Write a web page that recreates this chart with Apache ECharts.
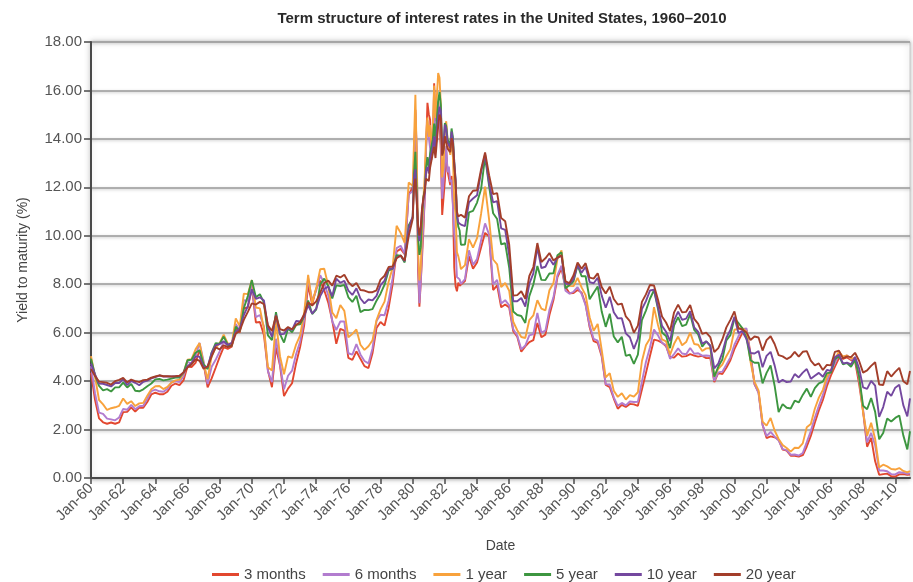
<!DOCTYPE html>
<html>
<head>
<meta charset="utf-8">
<script src="https://cdn.jsdelivr.net/npm/echarts@6/dist/echarts.min.js"></script>
<style>
html,body{margin:0;padding:0;background:#fff;}
#c{width:913px;height:582px;}
</style>
</head>
<body>
<div id="c"></div>
<script>
// ---------- categories (monthly) ----------
const monthNames = ['Jan','Feb','Mar','Apr','May','Jun','Jul','Aug','Sep','Oct','Nov','Dec'];
const months = [];
for (let y = 1960; y <= 2010; y++) {
  for (let m = 0; m < 12; m++) months.push(monthNames[m] + '-' + String(y % 100).padStart(2, '0'));
}
// sampled months: quarterly (Jan/Apr/Jul/Oct), monthly 1980-1982, plus Dec-10
const sampleMonths = [];
for (let y = 1960; y <= 2010; y++) {
  for (let m = 0; m < 12; m++) {
    if ((y >= 1980 && y <= 1982) || m % 3 === 0) sampleMonths.push((y - 1960) * 12 + m);
  }
}
sampleMonths.push(611);

const seriesNames = ['3 months', '6 months', '1 year', '5 year', '10 year', '20 year'];
const yTicks = [0, 2, 4, 6, 8, 10, 12, 14, 16, 18];

// ---------- values (%) ----------
const threeMonth = [
4.35,3.23,2.46,2.30, 2.24,2.29,2.24,2.30, 2.72,2.73,2.92,2.74, 2.91,2.90,3.14,3.45,
3.52,3.46,3.46,3.56, 3.81,3.90,3.83,4.03, 4.60,4.58,4.75,5.29, 4.72,3.74,4.11,4.55,
5.00,5.40,5.33,5.42, 6.18,6.00,7.00,7.04, 7.88,6.42,6.44,5.91, 4.44,3.75,5.39,4.64,
3.38,3.69,3.91,4.73, 5.41,6.29,7.97,7.16, 7.82,8.15,7.75,7.24, 6.49,5.54,6.16,6.08,
4.96,4.88,5.23,4.92, 4.62,4.54,5.15,6.19, 6.44,6.29,7.01,8.00, 9.35,9.46,9.24,11.70,
12.00,12.86,15.20,13.20,8.58,7.07,8.06,9.13,10.27,11.62,13.73,15.49,
15.02,14.79,13.36,13.69,16.30,14.73,14.95,15.51,14.70,13.54,10.86,10.85,
12.28,13.48,12.68,12.70,12.09,12.47,11.35,8.68,7.92,7.71,8.07,7.94,
7.86,8.13,9.15,8.64, 8.90,9.52,10.12,9.97, 7.76,7.95,7.05,7.16, 7.04,6.06,5.83,5.21,
5.43,5.61,5.69,6.40, 5.81,5.92,6.73,7.35, 8.29,8.65,7.88,7.63, 7.64,7.76,7.66,7.17,
6.22,5.65,5.58,5.02, 3.84,3.75,3.28,2.86, 3.02,2.93,3.06,3.04, 2.98,3.65,4.33,5.04,
5.71,5.67,5.59,5.44, 5.00,4.97,5.14,5.01, 5.03,5.11,5.05,5.01, 5.04,4.95,4.96,3.96,
4.34,4.29,4.55,4.86, 5.32,5.66,6.00,6.11, 5.15,3.87,3.54,2.20, 1.65,1.72,1.68,1.58,
1.17,1.13,0.92,0.92, 0.88,0.94,1.30,1.74, 2.28,2.79,3.22,3.79, 4.24,4.60,4.95,4.92,
4.98,4.87,4.82,3.90, 2.75,1.29,1.66,0.69, 0.13,0.16,0.18,0.07, 0.06,0.15,0.16,0.13,0.14
];
const sixMonth = [
4.62,3.50,2.70,2.65, 2.45,2.42,2.38,2.50, 2.85,2.82,3.02,2.84, 2.96,2.98,3.27,3.59,
3.65,3.58,3.56,3.68, 3.94,4.00,3.96,4.20, 4.80,4.72,5.04,5.58, 4.82,3.88,4.59,4.88,
5.23,5.64,5.42,5.47, 6.36,6.09,7.34,7.31, 7.96,6.64,6.73,6.26, 4.40,3.96,5.75,4.70,
3.66,4.22,4.43,5.11, 5.63,6.52,8.24,7.33, 7.73,8.37,8.03,7.54, 6.46,6.11,6.46,6.46,
5.15,5.09,5.53,5.10, 4.83,4.73,5.35,6.48, 6.74,6.72,7.32,8.24, 9.49,9.59,9.26,11.70,
11.85,12.72,15.10,13.62,9.15,7.22,8.10,9.44,10.55,11.57,13.61,14.77,
14.08,14.03,13.13,13.51,15.53,13.93,14.40,15.55,15.06,14.01,11.53,11.47,
12.93,13.71,12.62,12.86,12.22,12.31,12.24,10.11,9.54,8.30,8.35,8.20,
8.01,8.21,9.40,8.80, 9.04,9.81,10.51,10.05, 7.99,8.18,7.20,7.34, 7.13,6.14,5.88,5.31,
5.47,5.89,5.94,6.81, 6.00,6.08,6.94,7.46, 8.38,8.77,7.73,7.61, 7.69,7.88,7.60,7.13,
6.29,5.74,5.67,5.09, 3.87,3.86,3.33,2.98, 3.10,3.00,3.16,3.14, 3.15,3.98,4.79,5.39,
6.13,5.89,5.58,5.48, 4.92,5.12,5.35,5.14, 5.11,5.37,5.13,5.15, 5.05,5.06,5.04,4.01,
4.36,4.39,4.68,4.98, 5.50,5.85,6.14,6.18, 5.02,3.90,3.50,2.19, 1.73,1.90,1.71,1.55,
1.19,1.15,0.96,0.97, 0.93,1.03,1.48,1.94, 2.49,2.98,3.43,3.98, 4.43,4.74,5.09,5.00,
5.06,4.90,4.96,4.09, 2.82,1.47,1.86,1.35, 0.31,0.31,0.28,0.16, 0.15,0.24,0.22,0.17,0.19
];
const oneYear = [
5.03,4.18,3.22,3.04, 2.81,2.88,2.92,2.98, 3.28,3.06,3.17,2.97, 3.08,3.10,3.40,3.66,
3.79,3.80,3.67,3.76, 3.94,4.03,4.06,4.32, 4.88,4.91,5.31,5.57, 4.71,4.08,5.04,5.37,
5.57,5.92,5.56,5.54, 6.59,6.26,7.61,7.59, 8.17,7.04,7.00,6.17, 4.57,4.44,6.49,5.03,
4.28,5.02,4.96,5.51, 5.89,6.81,8.39,7.22, 7.83,8.62,8.64,7.94, 6.83,6.60,7.14,6.90,
5.81,5.95,6.13,5.50, 5.29,5.44,5.69,6.52, 6.96,7.28,8.09,8.68, 10.41,10.12,9.71,12.20,
12.06,13.92,15.82,13.30,9.39,8.16,8.65,10.24,11.52,12.49,14.15,14.88,
14.08,14.57,13.71,14.32,16.20,14.86,15.72,16.72,16.52,15.38,12.41,12.85,
14.32,14.73,13.95,13.98,13.34,14.07,13.24,11.43,10.85,9.32,9.16,8.91,
8.62,8.79,9.86,9.51, 9.90,10.90,12.03,10.67, 9.02,8.82,7.88,8.05, 7.73,6.45,6.10,5.82,
5.78,6.52,6.71,7.34, 6.99,6.92,7.75,8.05, 9.05,9.40,8.02,7.93, 7.92,8.26,7.87,7.55,
6.64,6.08,6.36,5.29, 4.15,4.33,3.60,3.35, 3.50,3.24,3.42,3.36, 3.54,4.82,5.48,5.76,
7.05,6.32,5.72,5.64, 5.09,5.54,5.84,5.48, 5.61,6.00,5.53,5.50, 5.24,5.35,5.36,4.20,
4.51,4.68,5.03,5.32, 6.12,6.15,6.18,6.04, 4.81,3.97,3.62,2.33, 2.16,2.48,1.96,1.61,
1.36,1.24,1.09,1.25, 1.24,1.43,2.10,2.23, 2.86,3.32,3.64,4.18, 4.45,4.90,5.22,5.01,
5.06,4.93,4.96,4.20, 2.71,1.74,2.28,1.61, 0.44,0.55,0.48,0.37, 0.35,0.41,0.29,0.23,0.29
];
const fiveYear = [
4.92,4.25,3.80,3.62, 3.67,3.57,3.74,3.74, 3.94,3.74,3.88,3.60, 3.58,3.66,3.79,3.90,
4.07,4.09,4.03,4.06, 4.10,4.15,4.15,4.34, 4.86,4.88,5.17,5.27, 4.69,4.50,5.18,5.57,
5.54,5.84,5.50,5.46, 6.25,6.05,7.01,7.51, 8.17,7.46,7.59,7.24, 5.89,5.69,6.85,5.94,
5.59,6.17,6.02,6.32, 6.34,6.66,7.33,6.77, 6.95,7.99,8.23,7.93, 7.41,7.95,7.92,7.97,
7.46,7.27,7.52,6.85, 6.94,6.93,6.97,7.32, 7.61,7.98,8.56,8.64, 9.20,9.18,8.90,10.43,
10.74,12.60,13.47,11.84,9.95,9.21,9.53,10.84,11.62,11.86,12.83,13.25,
12.77,13.41,13.41,13.99,14.63,13.95,14.79,15.56,15.93,15.41,13.38,13.60,
14.65,14.54,13.98,14.00,13.75,14.43,14.07,13.00,12.25,10.80,10.38,10.22,
9.63,9.64,10.97,11.03, 11.37,11.92,13.27,12.05, 10.93,10.69,9.65,9.69, 8.68,6.87,6.73,6.69,
6.40,7.51,7.99,8.75, 8.18,8.17,8.44,8.45, 9.20,9.32,7.83,7.97, 8.12,8.79,8.33,8.33,
7.38,7.65,7.91,6.87, 6.24,6.78,5.84,5.60, 5.83,5.04,5.09,4.71, 5.09,6.52,6.91,7.40,
7.76,6.98,6.01,5.86, 5.36,6.30,6.64,6.27, 6.33,6.76,6.12,5.93, 5.42,5.64,5.46,4.18,
4.60,4.89,5.68,5.90, 6.58,6.40,6.18,5.78, 4.86,4.76,4.76,3.91, 4.34,4.65,3.81,2.72,
3.05,2.90,2.87,3.19, 3.12,3.43,3.69,3.35, 3.71,3.91,3.98,4.33, 4.35,4.90,5.04,4.69,
4.75,4.59,4.88,4.20, 2.98,2.84,3.30,2.73, 1.60,1.86,2.46,2.33, 2.48,2.58,1.76,1.18,1.93
];
const tenYear = [
4.72,4.28,3.90,3.89, 3.84,3.78,3.92,3.92, 4.08,3.84,4.01,3.93, 3.83,3.97,4.02,4.11,
4.17,4.23,4.19,4.19, 4.19,4.20,4.20,4.35, 4.61,4.75,5.02,5.01, 4.58,4.59,5.16,5.48,
5.53,5.64,5.50,5.58, 6.04,6.17,6.72,7.10, 7.79,7.39,7.46,7.33, 6.24,5.83,6.73,5.93,
5.95,6.19,6.11,6.48, 6.46,6.67,7.13,6.79, 6.99,7.51,7.81,7.90, 7.50,8.23,8.06,8.14,
7.74,7.56,7.83,7.41, 7.21,7.37,7.33,7.52, 7.96,8.15,8.64,8.64, 9.10,9.18,8.95,10.30,
10.80,12.41,12.75,11.47,10.18,9.78,10.25,11.10,11.51,11.75,12.68,12.84,
12.57,13.19,13.12,13.68,14.10,13.47,14.28,14.94,15.32,15.15,13.39,13.72,
14.59,14.43,13.86,13.87,13.62,14.30,13.95,13.06,12.34,10.91,10.55,10.54,
10.46,10.40,11.38,11.54, 11.67,12.63,13.36,12.16, 11.38,11.43,10.31,10.24, 9.19,7.30,7.30,7.43,
7.08,8.02,8.45,9.52, 8.67,8.72,9.06,8.80, 9.09,9.18,8.02,8.01, 8.21,8.79,8.47,8.72,
8.09,8.04,8.27,7.53, 7.03,7.48,6.84,6.59, 6.60,5.97,5.81,5.33, 5.75,6.97,7.30,7.74,
7.78,7.06,6.28,6.04, 5.65,6.51,6.87,6.53, 6.58,6.89,6.22,6.03, 5.54,5.64,5.46,4.53,
4.72,5.18,5.79,6.11, 6.66,5.99,6.05,5.74, 5.16,5.14,5.24,4.57, 5.04,5.21,4.65,3.94,
4.05,3.96,3.98,4.29, 4.15,4.35,4.50,4.10, 4.22,4.34,4.18,4.46, 4.42,4.99,5.09,4.73,
4.76,4.69,5.00,4.53, 3.74,3.68,4.01,3.81, 2.52,2.93,3.56,3.39, 3.73,3.85,3.01,2.54,3.29
];
const twentyYear = [
4.50,4.21,3.98,3.96, 3.93,3.86,4.00,4.05, 4.13,3.95,4.06,4.00, 3.96,4.04,4.06,4.14,
4.19,4.24,4.20,4.20, 4.19,4.20,4.22,4.36, 4.56,4.69,4.90,4.84, 4.51,4.61,5.01,5.39,
5.31,5.48,5.40,5.47, 5.96,6.08,6.53,6.86, 7.21,7.16,7.27,7.18, 6.30,6.07,6.70,6.15,
6.09,6.23,6.14,6.32, 6.43,6.76,7.25,7.12, 7.29,7.65,8.05,8.15, 7.94,8.35,8.28,8.39,
8.09,7.92,8.05,7.76, 7.74,7.67,7.67,7.75, 8.19,8.35,8.71,8.73, 9.07,9.19,8.98,9.99,
10.69,12.00,12.36,11.44,10.43,10.01,10.38,11.16,11.56,11.86,12.36,12.29,
12.26,12.82,12.82,13.40,13.68,13.21,13.88,14.52,15.00,14.85,13.31,13.55,
14.11,14.05,13.60,13.56,13.45,14.03,13.82,12.91,12.17,10.99,10.80,10.80,
10.87,10.75,11.63,11.86, 11.88,12.74,13.44,12.50, 11.72,11.76,10.73,10.60, 9.63,7.53,7.55,7.71,
7.40,8.34,8.71,9.70, 8.92,9.07,9.29,8.98, 9.10,9.19,8.12,8.05, 8.37,8.90,8.64,8.87,
8.27,8.23,8.45,7.88, 7.62,7.90,7.39,7.16, 7.20,6.67,6.48,6.00, 6.29,7.27,7.58,7.97,
7.95,7.36,6.67,6.42, 6.06,6.84,7.16,6.84, 6.86,7.14,6.57,6.36, 5.95,6.00,5.82,5.20,
5.36,5.72,6.22,6.53, 6.88,6.19,6.13,6.01, 5.70,5.84,5.80,5.26, 5.69,5.85,5.53,5.07,
5.02,4.91,5.00,5.21, 5.01,5.21,5.24,4.85, 4.65,4.73,4.46,4.67, 4.65,5.21,5.26,4.94,
5.02,4.99,5.17,4.84, 4.35,4.44,4.63,4.78, 3.86,3.84,4.41,4.19, 4.38,4.55,3.99,3.87,4.42
];

const seriesValues = [threeMonth, sixMonth, oneYear, fiveYear, tenYear, twentyYear];
const seriesColors = ['#e2472f', '#b27ccf', '#f8a23c', '#3d9640', '#74489f', '#a33e2a'];

seriesValues.forEach((arr, i) => {
  if (arr.length !== sampleMonths.length) console.error(seriesNames[i] + ' length ' + arr.length + ' vs ' + sampleMonths.length);
});

const labelEvery = (idx) => idx % 24 === 0;
const FONT = '"Liberation Sans", Arial, sans-serif';

const chart = echarts.init(document.getElementById('c'), null, { renderer: 'canvas' });
chart.setOption({
  animation: false,
  backgroundColor: '#ffffff',
  textStyle: { fontFamily: FONT },
  title: {
    text: 'Term structure of interest rates in the United States, 1960\u20132010',
    left: 497,
    textAlign: 'center',
    top: 6,
    textStyle: { fontSize: 15, fontWeight: 'bold', color: '#2a2a2a', fontFamily: FONT }
  },
  legend: {
    data: seriesNames,
    left: 207,
    top: 562,
    icon: 'rect',
    itemWidth: 27,
    itemHeight: 3,
    itemGap: 17,
    textStyle: { fontSize: 15, color: '#444' }
  },
  grid: {
    left: 91, right: 3, top: 42, bottom: 104,
    show: true,
    backgroundColor: '#ffffff',
    borderColor: '#c8c8c8',
    borderWidth: 1,
    shadowColor: 'rgba(0,0,0,0.25)',
    shadowBlur: 6
  },
  xAxis: {
    type: 'category',
    data: months,
    boundaryGap: false,
    name: 'Date',
    nameLocation: 'middle',
    nameGap: 61,
    nameTextStyle: { fontSize: 14, color: '#444' },
    axisLine: { lineStyle: { color: '#4a4a4a', width: 2 } },
    axisTick: { show: true, interval: labelEvery, length: 6, lineStyle: { color: '#4a4a4a', width: 1.5 } },
    axisLabel: { interval: labelEvery, rotate: 45, fontSize: 15, color: '#555', margin: 8 },
    splitLine: { show: false }
  },
  yAxis: {
    type: 'value',
    min: yTicks[0],
    max: yTicks[yTicks.length - 1],
    interval: 2,
    name: 'Yield to maturity (%)',
    nameLocation: 'middle',
    nameGap: 61,
    nameTextStyle: { fontSize: 14, color: '#444' },
    axisLine: { show: true, lineStyle: { color: '#4a4a4a', width: 2 } },
    axisTick: { show: true, length: 7, lineStyle: { color: '#4a4a4a', width: 1.5 } },
    axisLabel: { formatter: v => v.toFixed(2), fontSize: 15, color: '#555', margin: 9 },
    splitLine: { lineStyle: { color: '#9a9a9a', width: 1.5, shadowColor: 'rgba(0,0,0,0.25)', shadowBlur: 3, shadowOffsetY: 1 } }
  },
  series: seriesNames.map((name, i) => ({
    name,
    type: 'line',
    showSymbol: false,
    symbol: 'none',
    color: seriesColors[i],
    lineStyle: { width: 1.9, color: seriesColors[i] },
    data: sampleMonths.map((m, k) => [m, seriesValues[i][k]])
  }))
});
</script>
</body>
</html>
